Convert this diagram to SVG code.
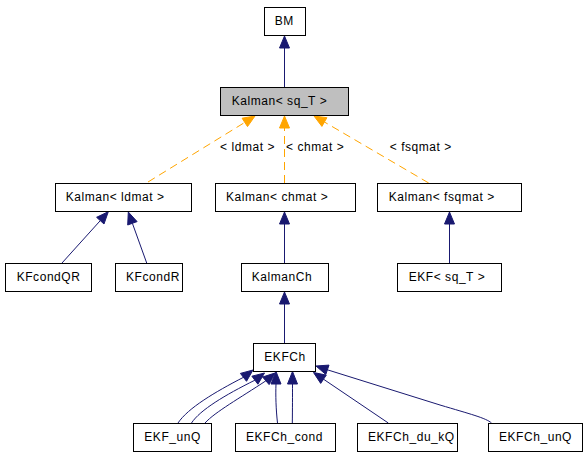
<svg xmlns="http://www.w3.org/2000/svg" width="587" height="456" viewBox="0 0 587 456">
<style>
.box{fill:#fff;stroke:#000;stroke-width:1}
.hl{fill:#bfbfbf}
text{font-family:"Liberation Sans",Arial,Helvetica,sans-serif;font-size:12px;letter-spacing:0.55px;fill:#000}
.e{fill:none;stroke:#191970;stroke-width:1}
.h{fill:#191970;stroke:#191970;stroke-width:1}
.t{fill:none;stroke:#ffa500;stroke-width:1;stroke-dasharray:8,5}
.th{fill:#ffa500;stroke:#ffa500;stroke-width:1}
</style>
<rect width="587" height="456" fill="#fff"/>
<g id="connectors">
<!-- BM <- Kalman<sq_T> -->
<line class="e" x1="284.5" y1="48" x2="284.5" y2="87.5"/>
<polygon class="h" points="284.5,36 289.5,48 279.5,48"/>
<!-- template instantiations -->
<line class="t" x1="148" y1="182" x2="244.8" y2="122.4"/>
<polygon class="th" points="255,116 247.5,126.6 242.1,118.2"/>
<text x="220" y="151">&lt; ldmat &gt;</text>
<line class="t" x1="284.5" y1="183" x2="284.5" y2="128"/>
<polygon class="th" points="284.5,116 289.5,128 279.5,128"/>
<text x="286" y="151">&lt; chmat &gt;</text>
<line class="t" x1="428.7" y1="183" x2="324.4" y2="122"/>
<polygon class="th" points="314,116 326.9,117.7 321.9,126.4"/>
<text x="389.7" y="151">&lt; fsqmat &gt;</text>
<!-- KFcondQR, KFcondR -> Kalman<ldmat> -->
<line class="e" x1="62" y1="263" x2="100.3" y2="220.6"/>
<polygon class="h" points="108.3,211.7 104,224 96.6,217.3"/>
<line class="e" x1="146.7" y1="263" x2="132.4" y2="223.3"/>
<polygon class="h" points="128.3,212 137.1,221.6 127.7,225"/>
<!-- KalmanCh -> Kalman<chmat> -->
<line class="e" x1="284.5" y1="224" x2="284.5" y2="263.5"/>
<polygon class="h" points="284.5,212 289.5,224 279.5,224"/>
<!-- EKF<sq_T> -> Kalman<fsqmat> -->
<line class="e" x1="449.5" y1="224" x2="449.5" y2="263.5"/>
<polygon class="h" points="449.5,212 454.5,224 444.5,224"/>
<!-- EKFCh -> KalmanCh -->
<line class="e" x1="284.5" y1="304" x2="284.5" y2="343.5"/>
<polygon class="h" points="284.5,292 289.5,304 279.5,304"/>
<!-- EKF_unQ -> EKFCh (x3) -->
<path class="e" d="M178,423 C188,408 215,392 243.5,377.3"/>
<polygon class="h" points="253,370 246.5,381.3 240.4,373.4"/>
<path class="e" d="M191.5,423 C200,410 225,395 254.9,380.2"/>
<polygon class="h" points="264.5,373 257.9,384.2 251.9,376.2"/>
<path class="e" d="M205,423 C215,412 240,398 265.9,380.8"/>
<polygon class="h" points="275,373 269.1,384.6 262.6,377"/>
<!-- EKFCh_cond -> EKFCh (x2) -->
<path class="e" d="M277.5,423 C276,410 275.5,395 276,384"/>
<polygon class="h" points="276,371.5 281,384 271,384"/>
<path class="e" d="M292.3,423 C292.5,410 292.5,395 292.5,384"/>
<polygon class="h" points="292.5,371.5 297.5,384 287.5,384"/>
<!-- EKFCh_du_kQ -> EKFCh -->
<line class="e" x1="388.3" y1="423" x2="323.5" y2="379.2"/>
<polygon class="h" points="313.5,372.5 326.3,375.1 320.7,383.4"/>
<!-- EKFCh_unQ -> EKFCh -->
<path class="e" d="M491.5,423 C486,418 470,414 440,405 L327.4,369.8"/>
<polygon class="h" points="316,366 329,365.1 325.8,374.5"/>
</g>
<g id="BM"><rect class="box" x="264.5" y="7.5" width="41" height="28"/><text x="274.7" y="25">BM</text></g>
<g id="Kalman_sq_T"><rect class="box hl" x="220.5" y="87.5" width="128" height="28"/><text x="231.7" y="105">Kalman&lt; sq_T &gt;</text></g>
<g id="Kalman_ldmat"><rect class="box" x="55.5" y="183.5" width="136" height="28"/><text x="65.7" y="201">Kalman&lt; ldmat &gt;</text></g>
<g id="Kalman_chmat"><rect class="box" x="215.5" y="183.5" width="140" height="28"/><text x="226" y="201">Kalman&lt; chmat &gt;</text></g>
<g id="Kalman_fsqmat"><rect class="box" x="377.5" y="183.5" width="144" height="28"/><text x="388.7" y="201">Kalman&lt; fsqmat &gt;</text></g>
<g id="KFcondQR"><rect class="box" x="5.5" y="263.5" width="86" height="28"/><text x="16.7" y="281">KFcondQR</text></g>
<g id="KFcondR"><rect class="box" x="115.5" y="263.5" width="67" height="28"/><text x="126" y="281">KFcondR</text></g>
<g id="KalmanCh"><rect class="box" x="241.5" y="263.5" width="87" height="28"/><text x="251.7" y="281">KalmanCh</text></g>
<g id="EKF_sq_T"><rect class="box" x="397.5" y="263.5" width="104" height="28"/><text x="408.7" y="281">EKF&lt; sq_T &gt;</text></g>
<g id="EKFCh"><rect class="box" x="253.5" y="343.5" width="62" height="28"/><text x="264.3" y="361">EKFCh</text></g>
<g id="EKF_unQ"><rect class="box" x="133.5" y="423.5" width="78" height="28"/><text x="144.3" y="441">EKF_unQ</text></g>
<g id="EKFCh_cond"><rect class="box" x="235.5" y="423.5" width="100" height="28"/><text x="246" y="441">EKFCh_cond</text></g>
<g id="EKFCh_du_kQ"><rect class="box" x="357.5" y="423.5" width="100" height="28"/><text x="368" y="441">EKFCh_du_kQ</text></g>
<g id="EKFCh_unQ"><rect class="box" x="488.5" y="423.5" width="94" height="28"/><text x="499" y="441">EKFCh_unQ</text></g>
</svg>
